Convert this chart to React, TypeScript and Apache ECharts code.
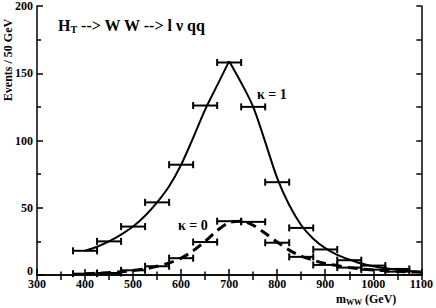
import React, { useEffect, useRef } from 'react';
import * as echarts from 'echarts';

const binCenters = [400, 450, 500, 550, 600, 650, 700, 750, 800, 850, 900, 950, 1000, 1050];
const kappa1Events = [18, 25, 36, 54, 82, 126, 158, 125, 69, 35, 19, 11, 7, 4.5];
const kappa0Events = [1, 1.5, 3.5, 6.5, 12.5, 24.5, 40, 39.5, 24, 13.5, 7.5, 5.5, 4, 2.5];
const binHalfWidth = 25;

const curveXRise = [400, 425, 450, 475, 500, 525, 550, 575, 600, 625, 650, 675, 700];
const kappa1CurveRise = [18, 21, 25, 30, 36, 44, 54, 66, 82, 102, 123, 141, 159];
const curveXFall = [700, 725, 750, 775, 800, 825, 850, 875, 900, 925, 950, 975, 1000, 1025, 1050, 1075, 1100];
const kappa1CurveFall = [159, 143, 125, 99, 72, 52, 37, 27, 20, 15, 11.5, 8.5, 6.5, 5, 4, 3, 2.5];

const curveX = [400, 425, 450, 475, 500, 525, 550, 575, 600, 625, 650, 675, 700, 725, 750, 775, 800, 825, 850, 875, 900, 925, 950, 975, 1000, 1025, 1050, 1075, 1100];
const kappa0Curve = [1, 1.3, 1.8, 2.5, 3.3, 4.5, 6.5, 9, 12.5, 18, 25, 33, 39, 40, 37, 31, 24.5, 18.5, 14, 11, 8.5, 7, 5.5, 4.5, 3.8, 3.2, 2.7, 2.3, 2];

const xMin = 300, xMax = 1100, xStep = 100;
const yMin = 0, yMax = 200, yStep = 50;

const FONT = '"Liberation Serif", "Times New Roman", serif';

export default function App() {
  const ref = useRef<HTMLDivElement>(null);
  useEffect(() => {
    if (!ref.current) return;
    const chart = echarts.init(ref.current, undefined, { renderer: 'svg' });
    const zip = (xs: number[], ys: number[]) => xs.map((x, i) => [x, ys[i]]);
    const errRender = (params: any, api: any) => {
      const x = api.value(0);
      const y = api.value(1);
      const a = api.coord([x - binHalfWidth, y]);
      const b = api.coord([x + binHalfWidth, y]);
      const cap = 3.5;
      const st = { stroke: '#000', lineWidth: 2 };
      return {
        type: 'group',
        children: [
          { type: 'line', shape: { x1: a[0], y1: a[1], x2: b[0], y2: b[1] }, style: st },
          { type: 'line', shape: { x1: a[0], y1: a[1] - cap, x2: a[0], y2: a[1] + cap }, style: st },
          { type: 'line', shape: { x1: b[0], y1: b[1] - cap, x2: b[0], y2: b[1] + cap }, style: st },
        ],
      };
    };
    const labelFont = { color: '#000', fontFamily: FONT, fontWeight: 'bold', fontSize: 12 };
    const axisLineStyle = { color: '#000', width: 1.5 };
    chart.setOption({
      animation: false,
      backgroundColor: '#fff',
      grid: { left: 37, right: 14, top: 5, bottom: 33, containLabel: false },
      xAxis: [
        {
          type: 'value', min: xMin, max: xMax, interval: xStep, position: 'bottom',
          axisLine: { lineStyle: axisLineStyle },
          axisTick: { inside: true, length: 6, lineStyle: axisLineStyle },
          minorTick: { show: true, splitNumber: 2, length: 3.5, lineStyle: axisLineStyle },
          axisLabel: { ...labelFont, margin: 3, formatter: (v: number) => String(v) },
          splitLine: { show: false },
        },
        {
          type: 'value', min: xMin, max: xMax, interval: xStep, position: 'top',
          axisLine: { lineStyle: axisLineStyle },
          axisTick: { inside: true, length: 5, lineStyle: axisLineStyle },
          minorTick: { show: true, splitNumber: 2, length: 5, lineStyle: axisLineStyle },
          axisLabel: { show: false },
          splitLine: { show: false },
        },
      ],
      yAxis: [
        {
          type: 'value', min: yMin, max: yMax, interval: yStep, position: 'left',
          axisLine: { show: true, lineStyle: axisLineStyle },
          axisTick: { show: true, inside: true, length: 6, lineStyle: axisLineStyle },
          minorTick: { show: true, splitNumber: 2, length: 4, lineStyle: axisLineStyle },
          axisLabel: {
            ...labelFont, margin: 4,
            formatter: (v: number) => (v === yMin ? '{z|' + v + '}' : String(v)),
            rich: { z: { ...labelFont, padding: [0, 0, 9, 0] } },
          },
          splitLine: { show: false },
        },
        {
          type: 'value', min: yMin, max: yMax, interval: yStep, position: 'right',
          axisLine: { show: true, lineStyle: axisLineStyle },
          axisTick: { show: true, inside: true, length: 5, lineStyle: axisLineStyle },
          minorTick: { show: true, splitNumber: 2, length: 5, lineStyle: axisLineStyle },
          axisLabel: { show: false },
          splitLine: { show: false },
        },
      ],
      series: [
        {
          type: 'line', name: 'kappa1 curve rise', data: zip(curveXRise, kappa1CurveRise), smooth: 0.3, showSymbol: false,
          lineStyle: { color: '#000', width: 2 }, z: 3,
        },
        {
          type: 'line', name: 'kappa1 curve fall', data: zip(curveXFall, kappa1CurveFall), smooth: 0.3, showSymbol: false,
          lineStyle: { color: '#000', width: 2 }, z: 3,
        },
        {
          type: 'line', name: 'kappa0 curve', data: zip(curveX, kappa0Curve), smooth: 0.3, showSymbol: false,
          lineStyle: { color: '#000', width: 3, type: [10, 6] }, z: 3,
        },
        { type: 'custom', name: 'kappa1 events', data: zip(binCenters, kappa1Events), renderItem: errRender, z: 4 },
        { type: 'custom', name: 'kappa0 events', data: zip(binCenters, kappa0Events), renderItem: errRender, z: 4 },
      ],
      graphic: [
        {
          type: 'text', left: 58, top: 17,
          style: {
            text: '{b|H}{s|T}{b| --> W W --> l ν qq}',
            rich: {
              b: { fontFamily: FONT, fontWeight: 'bold', fontSize: 16, fill: '#000' },
              s: { fontFamily: FONT, fontWeight: 'bold', fontSize: 10, fill: '#000', padding: [9, 0, 0, 0] },
            },
          },
        },
        {
          type: 'text', x: 257, y: 94,
          style: { text: 'κ = 1', fontFamily: FONT, fontWeight: 'bold', fontSize: 14, fill: '#000', verticalAlign: 'middle' },
        },
        {
          type: 'text', x: 178, y: 225,
          style: { text: 'κ = 0', fontFamily: FONT, fontWeight: 'bold', fontSize: 14, fill: '#000', verticalAlign: 'middle' },
        },
        {
          type: 'text', x: 8, y: 60, rotation: Math.PI / 2,
          style: { text: 'Events / 50 GeV', fontFamily: FONT, fontWeight: 'bold', fontSize: 12, fill: '#000', align: 'center', verticalAlign: 'middle' },
        },
        {
          type: 'text', left: 336, top: 293,
          style: {
            text: '{b|m}{s|WW}{b| (GeV)}',
            rich: {
              b: { fontFamily: FONT, fontWeight: 'bold', fontSize: 12, fill: '#000' },
              s: { fontFamily: FONT, fontWeight: 'bold', fontSize: 8, fill: '#000', padding: [6, 0, 0, 0] },
            },
          },
        },
      ],
    });
    return () => chart.dispose();
  }, []);
  return <div ref={ref} style={{ position: 'fixed', left: 0, top: 0, width: 436, height: 308 }} />;
}
